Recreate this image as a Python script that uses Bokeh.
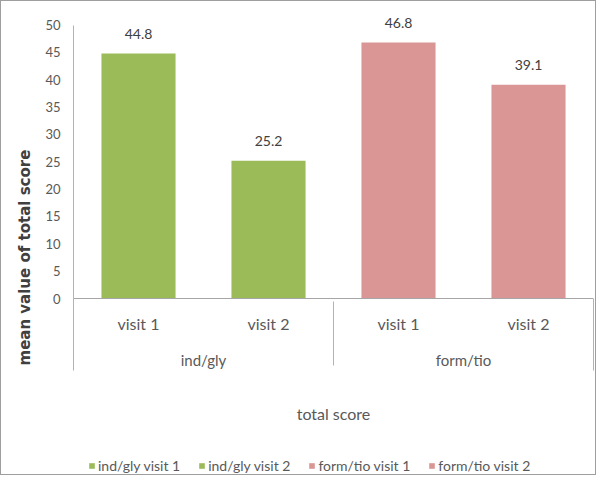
from bokeh.plotting import figure
from bokeh.models import (FactorRange, Range1d, ColumnDataSource, LabelSet, Legend, Title,
                          LegendItem, LinearAxis, CategoricalAxis, FixedTicker)
from bokeh.core.properties import value
from bokeh.embed import file_html
from bokeh.resources import INLINE

# ---- data ----
groups = ["ind/gly", "ind/gly", "form/tio", "form/tio"]
visits = ["visit 1", "visit 2", "visit 1", "visit 2"]
values = [44.8, 25.2, 46.8, 39.1]
series_names = ["ind/gly visit 1", "ind/gly visit 2", "form/tio visit 1", "form/tio visit 2"]
colors = ["#9BBB59", "#9BBB59", "#D99694", "#D99694"]
y_ticks = [0, 5, 10, 15, 20, 25, 30, 35, 40, 45, 50]
y_title = "mean value of total score"
x_title = "total score"

factors = list(zip(groups, visits))
source = ColumnDataSource(dict(
    x=factors, top=values, color=colors, name=series_names,
    label=[f"{v:.1f}" for v in values],
))

FONT = "Lato"
GRAY = "#595959"
LINE = "#B3B3B3"
# view limits (layout only): frame spans the whole height of the figure
Y_VIEW_LOW, Y_VIEW_HIGH = -32.55, 54.32
Y_LINE_LOW = -13.17  # where the axis / separator lines end below zero

p = figure(width=596, height=475,
           x_range=FactorRange(factors=factors, group_padding=0, range_padding=0),
           y_range=Range1d(Y_VIEW_LOW, Y_VIEW_HIGH),
           output_backend="svg", toolbar_location=None,
           x_axis_location=None, y_axis_location=None,
           min_border=0, min_border_left=72, min_border_right=4,
           min_border_top=0, min_border_bottom=0)
p.outline_line_color = None
p.grid.grid_line_color = None
p.background_fill_color = "white"
p.border_fill_color = "white"
p.styles = {"border": "1px solid #9E9E9E"}

r = p.vbar(x="x", top="top", width=0.57, fill_color="color", line_color=None, source=source)

# y axis
yaxis = LinearAxis(ticker=FixedTicker(ticks=y_ticks), bounds=(Y_LINE_LOW, y_ticks[-1]),
                   major_tick_line_color=None, minor_tick_line_color=None,
                   major_tick_out=0, minor_tick_out=0,
                   major_label_standoff=13, axis_line_color=LINE,
                   major_label_text_font=FONT, major_label_text_font_size="13px",
                   major_label_text_color=GRAY)
p.add_layout(yaxis, "left")

# y title (left panel, outside the axis)
p.add_layout(Title(text=y_title, align="left", offset=111, standoff=18,
                   text_font="DejaVu Sans", text_font_size="15px",
                   text_font_style="bold", text_color="#404040"), "left")

# right boundary line of the category area
raxis = LinearAxis(bounds=(Y_LINE_LOW, 0), ticker=FixedTicker(ticks=[]),
                   major_tick_out=0, minor_tick_out=0, major_label_standoff=0,
                   major_tick_line_color=None, minor_tick_line_color=None,
                   major_label_text_font_size="0px", axis_line_color=LINE)
p.add_layout(raxis, "right")

# categorical x axis at y = 0
xaxis = CategoricalAxis(fixed_location=0, axis_line_color="#A6A6A6",
                        major_tick_line_color=None, minor_tick_line_color=None,
                        major_tick_out=0, major_tick_in=0, minor_tick_out=0,
                        major_label_standoff=15,
                        major_label_text_font=FONT, major_label_text_font_size="16px",
                        major_label_text_color=GRAY,
                        group_text_font=FONT, group_text_font_size="15px",
                        group_text_color=GRAY, group_text_font_style="normal",
                        separator_line_color=LINE, separator_line_width=1,
                        axis_label=x_title, axis_label_standoff=32,
                        axis_label_text_font=FONT, axis_label_text_font_size="16px",
                        axis_label_text_font_style="normal", axis_label_text_color=GRAY)
p.add_layout(xaxis, "below")

# value labels
labels = LabelSet(x="x", y="top", text="label", source=source, y_offset=20,
                  text_align="center", text_baseline="middle",
                  text_font=value(FONT), text_font_size="14px", text_color="#404040")
p.add_layout(labels)

# legend
items = [LegendItem(label=series_names[i], renderers=[r], index=i) for i in range(len(series_names))]
legend = Legend(items=items, orientation="horizontal", location=(15, 2),
                glyph_width=7, glyph_height=7, label_standoff=3, spacing=18,
                padding=0, margin=0, border_line_color=None, background_fill_alpha=0,
                label_text_font=FONT, label_text_font_size="14px", label_text_color=GRAY)
p.add_layout(legend)

open("out.html", "w").write(file_html(p, INLINE))
